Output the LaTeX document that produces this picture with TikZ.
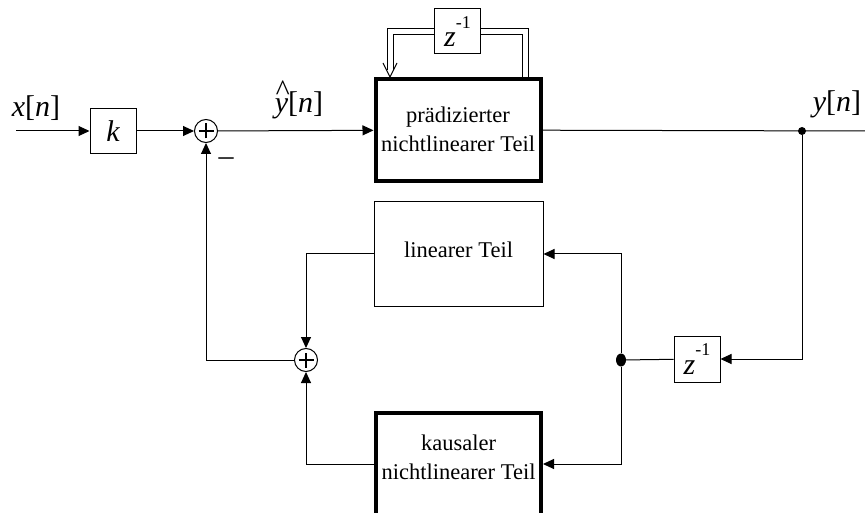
\documentclass[tikz,border=0pt]{standalone}
\usepackage{fontspec}
\setmainfont{Liberation Serif}
\usetikzlibrary{arrows.meta,shapes.geometric}
\newcommand\yhatlbl{\ooalign{{\itshape y}\cr\hidewidth\raisebox{0.42em}{\itshape\^{}}\hidewidth\cr}}
\newcommand\zinvlbl{{\itshape z}\raisebox{0.62em}{\fontsize{18}{18}\selectfont -1}}
\begin{document}
\begin{tikzpicture}[x=1pt,y=-1pt,
  line/.style={line width=1pt},
  arr/.style={line width=1pt, -{Triangle[length=11pt,width=10pt]}},
  dbl/.style={line width=1pt, double=white, double distance=5pt},
  blk/.style={draw, line width=1pt, minimum width=46pt, minimum height=45pt, inner sep=0pt, font=\fontsize{30}{30}\selectfont},
  bigblk/.style={draw, line width=4pt, minimum width=165pt, minimum height=102pt, inner sep=0pt},
  linblk/.style={draw, line width=1pt, minimum width=169pt, minimum height=104pt, inner sep=0pt},
  btxt/.style={align=center, inner sep=0pt, font=\fontsize{22.5}{29}\selectfont},
  sumnode/.style={circle, draw, line width=1pt, minimum size=23pt, inner sep=0pt,
    path picture={\draw[line width=1.4pt]
      ([xshift=-7.5pt]path picture bounding box.center) -- ([xshift=7.5pt]path picture bounding box.center)
      ([yshift=-7.5pt]path picture bounding box.center) -- ([yshift=7.5pt]path picture bounding box.center);}},
  dotnode/.style={circle, fill, minimum size=8pt, inner sep=0pt},
  lbl/.style={inner sep=0pt, font=\fontsize{30}{30}\selectfont}
]
\useasboundingbox (0,0) rectangle (865,513);
\clip (0,0) rectangle (865,513);

% nodes
\coordinate (xin) at (16,131);
\node[blk] (k) at (113,131) {\itshape k};
\node[sumnode] (s1) at (206,131) {};
\node[bigblk] (pred) at (458,130) {};
\node[btxt] (predtxt) at (458,129) {prädizierter\\nichtlinearer Teil};
\node[blk] (zt) at (457.5,31.5) {\zinvlbl};
\node[dotnode] (d1) at (802,131) {};
\coordinate (yout) at (865,131);
\node[blk, minimum height=46pt] (z2) at (697,359) {\zinvlbl};
\node[ellipse, fill, minimum width=10pt, minimum height=13pt, inner sep=0pt] (d2) at (621,360) {};
\node[linblk] (lin) at (458.5,254) {};
\node[btxt] (lintxt) at (458.5,250) {linearer Teil};
\node[sumnode] (s2) at (306,360) {};
\node[bigblk] (kaus) at (458.5,464) {};
\node[btxt] (kaustxt) at (458.5,457) {kausaler\\nichtlinearer Teil};

% labels
\node[lbl, anchor=base] (xlbl) at (36,117) {{\itshape x}[{\itshape n}]};
\node[lbl, anchor=base] (yhlbl) at (299,113) {\yhatlbl[{\itshape n}]};
\node[lbl, anchor=base] (ylbl) at (837,112) {{\itshape y}[{\itshape n}]};
\node[lbl] (minus) at (226,162) {–};

% connectors
\draw[arr] (xin) -- (k);
\draw[arr] (k) -- (s1);
\draw[arr] (s1) -- (pred);
\draw[line] (pred) -- (yout);
\draw[arr] (d1) |- (z2);
\draw[line] (z2) -- (d2);
\draw[arr] (d2) |- (lin);
\draw[arr] (d2) |- (kaus);
\draw[arr] (lin.west) -| (s2);
\draw[arr] (kaus.west) -| (s2);
\draw[arr] (s2) -| (s1);

% double feedback around predicted part
\coordinate (fb1) at (525,77);
\coordinate (fb2) at (390,70);
\coordinate (tipa) at (383,63);
\coordinate (tip) at (390,77);
\coordinate (tipb) at (397,63);
\draw[dbl] (fb1) |- (zt);
\draw[dbl] (zt) -| (fb2);
\draw[line] (tipa) -- (tip) -- (tipb);
\end{tikzpicture}
\end{document}
